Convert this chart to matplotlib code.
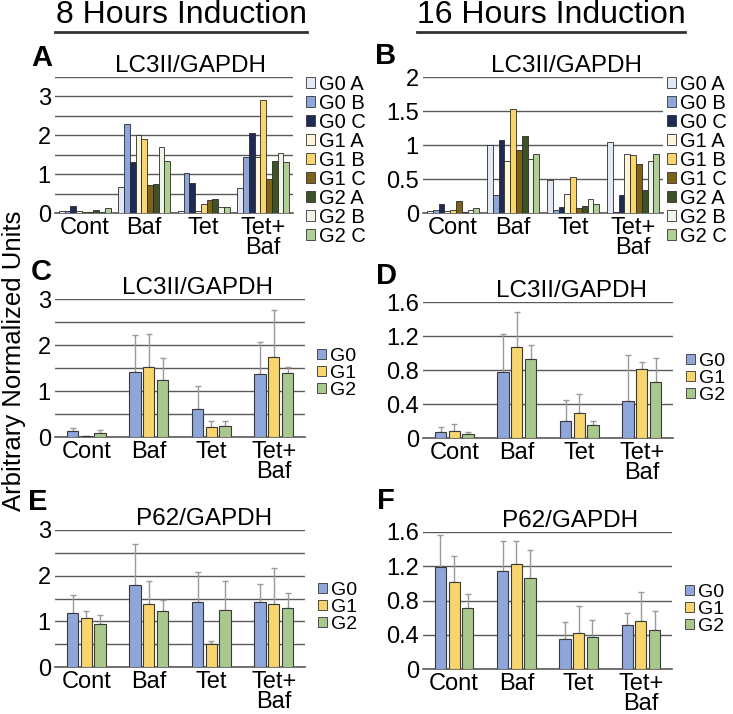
import matplotlib
matplotlib.use('Agg')
import matplotlib.pyplot as plt
from matplotlib.lines import Line2D
from matplotlib.patches import Patch

plt.rcParams['font.family'] = ['Liberation Sans', 'DejaVu Sans']

categories = ['Cont', 'Baf', 'Tet', 'Tet+\nBaf']

# Panel A / B: individual replicates
rep_labels = ['G0 A', 'G0 B', 'G0 C', 'G1 A', 'G1 B', 'G1 C', 'G2 A', 'G2 B', 'G2 C']
rep_colors = ['#E3E8F5', '#8EA6DA', '#1F2B55', '#FDF5D8', '#F8D66D', '#7D6218',
              '#3D5226', '#EEF4E6', '#B0CF94']

# rows = categories, columns = replicates
a_values = [
    [0.06, 0.06, 0.19, 0.05, 0.03, 0.03, 0.08, 0.03, 0.12],
    [0.67, 2.28, 1.30, 2.00, 1.90, 0.73, 0.75, 1.70, 1.34],
    [0.06, 1.04, 0.76, 0.05, 0.24, 0.33, 0.36, 0.16, 0.16],
    [0.64, 1.44, 2.07, 1.44, 2.90, 0.88, 1.35, 1.54, 1.32],
]
b_values = [
    [0.03, 0.04, 0.13, 0.03, 0.05, 0.18, 0.02, 0.05, 0.07],
    [1.00, 0.27, 1.08, 0.76, 1.53, 0.93, 1.13, 0.80, 0.87],
    [0.49, 0.04, 0.09, 0.28, 0.53, 0.08, 0.11, 0.21, 0.13],
    [1.04, 0.02, 0.26, 0.87, 0.86, 0.72, 0.34, 0.76, 0.87],
]

# Panels C-F: group means and upper error bar tops
group_labels = ['G0', 'G1', 'G2']
group_colors = ['#8EA6DA', '#F8D66D', '#A8C98B']

c_mean = [[0.12, 0.03, 0.08], [1.41, 1.52, 1.24], [0.61, 0.21, 0.24], [1.37, 1.73, 1.39]]
c_top = [[0.19, 0.03, 0.15], [2.21, 2.24, 1.71], [1.10, 0.35, 0.35], [2.06, 2.76, 1.52]]
d_mean = [[0.07, 0.08, 0.047], [0.78, 1.07, 0.93], [0.20, 0.29, 0.15], [0.44, 0.81, 0.66]]
d_top = [[0.125, 0.17, 0.07], [1.22, 1.48, 1.10], [0.45, 0.52, 0.20], [0.98, 0.90, 0.94]]
e_mean = [[1.19, 1.08, 0.95], [1.80, 1.38, 1.23], [1.43, 0.50, 1.25], [1.43, 1.38, 1.30]]
e_top = [[1.57, 1.22, 1.13], [2.69, 1.89, 1.47], [2.09, 0.57, 1.88], [1.82, 2.17, 1.62]]
f_mean = [[1.19, 1.02, 0.71], [1.14, 1.23, 1.06], [0.35, 0.42, 0.37], [0.51, 0.56, 0.45]]
f_top = [[1.57, 1.32, 0.88], [1.49, 1.49, 1.39], [0.55, 0.73, 0.57], [0.65, 0.90, 0.68]]

W, H = 733, 714
fig = plt.figure(figsize=(W / 100, H / 100), dpi=100)


def px_axes(x0, y0, x1, y1):
    return fig.add_axes([x0 / W, 1 - y1 / H, (x1 - x0) / W, (y1 - y0) / H])


def style_axes(ax, ymax, step, labels):
    ticks = []
    v = 0.0
    while v <= ymax + 1e-9:
        ticks.append(round(v, 2))
        v += step
    ax.set_ylim(0, ymax)
    ax.set_xlim(-0.5, 3.5)
    ax.set_yticks(ticks)
    ax.set_yticklabels([labels.get(t, '') for t in ticks], fontsize=17)
    ax.set_xticks(range(4))
    ax.set_xticklabels(categories, fontsize=17, linespacing=0.85)
    ax.tick_params(length=0, pad=3)
    ax.grid(axis='y', color='#5a5a5a', lw=1)
    ax.set_axisbelow(True)
    for s in ['top', 'right', 'left']:
        ax.spines[s].set_visible(False)
    ax.spines['bottom'].set_color('#5a5a5a')
    ax.spines['bottom'].set_linewidth(1.2)
    ax.set_facecolor('none')


def add_legend(ax, handles, labels, leg_xy, size):
    ax.legend(handles, labels, loc='upper left',
              bbox_to_anchor=(leg_xy[0] / W, 1 - leg_xy[1] / H),
              bbox_transform=fig.transFigure, frameon=False, fontsize=size,
              handlelength=0.45, handleheight=0.45, handletextpad=0.2,
              labelspacing=0.0, borderaxespad=0, borderpad=0)


def rep_panel(ax, values, title, tx, leg_xy):
    w = 0.87 / 9
    for i in range(9):
        xs = [c + (i - 4) * w for c in range(4)]
        ax.bar(xs, [row[i] for row in values], width=w, color=rep_colors[i],
               edgecolor='#2a2a2a', linewidth=0.6, zorder=3)
    ax.set_title(title, fontsize=17.5, pad=3, x=tx)
    handles = [Patch(facecolor=rep_colors[i], edgecolor='#333333', lw=0.6)
               for i in range(9)]
    add_legend(ax, handles, rep_labels, leg_xy, 14.5)


def group_panel(ax, means, tops, title, tx, leg_xy):
    step = 0.22
    for g in range(3):
        xs = [c + (g - 1) * step for c in range(4)]
        m = [row[g] for row in means]
        err = [row[g] - row_m for row, row_m in zip(tops, m)]
        ax.bar(xs, m, width=0.18, color=group_colors[g], edgecolor='#3a3a3a',
               linewidth=0.8, zorder=3)
        ax.errorbar(xs, m, yerr=[[0] * 4, err], fmt='none', ecolor='#9a9a9a',
                    elinewidth=1, capsize=2.5, capthick=1, zorder=2)
    ax.set_title(title, fontsize=17.5, pad=3, x=tx)
    handles = [Patch(facecolor=group_colors[g], edgecolor='#333333', lw=0.6)
               for g in range(3)]
    add_legend(ax, handles, group_labels, leg_xy, 14)


int_labels = {0.0: '0', 1.0: '1', 2.0: '2', 3.0: '3'}
dec_labels = {0.0: '0', 0.4: '0.4', 0.8: '0.8', 1.2: '1.2', 1.6: '1.6'}
half_labels = {0.0: '0', 0.5: '0.5', 1.0: '1', 1.5: '1.5', 2.0: '2'}

ax_a = px_axes(55, 77, 293, 213)
style_axes(ax_a, 3.5, 0.5, int_labels)
rep_panel(ax_a, a_values, 'LC3II/GAPDH', 0.571, (306, 75))

ax_b = px_axes(423, 77, 663, 213)
style_axes(ax_b, 2.0, 0.5, half_labels)
rep_panel(ax_b, b_values, 'LC3II/GAPDH', 0.596, (667, 75))

ax_c = px_axes(55, 299, 305, 437)
style_axes(ax_c, 3.0, 0.5, int_labels)
group_panel(ax_c, c_mean, c_top, 'LC3II/GAPDH', 0.572, (317, 348))

ax_d = px_axes(423, 302, 673, 438)
style_axes(ax_d, 1.6, 0.4, dec_labels)
group_panel(ax_d, d_mean, d_top, 'LC3II/GAPDH', 0.596, (686, 353))

ax_e = px_axes(55, 530, 305, 667)
style_axes(ax_e, 3.0, 0.5, int_labels)
group_panel(ax_e, e_mean, e_top, 'P62/GAPDH', 0.596, (318, 582))

ax_f = px_axes(423, 532, 672, 669)
style_axes(ax_f, 1.6, 0.4, dec_labels)
group_panel(ax_f, f_mean, f_top, 'P62/GAPDH', 0.59, (685, 584))

# panel letters
for letter, x, y in [('A', 42, 58), ('B', 386, 56), ('C', 41, 272),
                     ('D', 387, 276), ('E', 38, 502), ('F', 386, 501)]:
    fig.text(x / W, 1 - y / H, letter, fontsize=21, fontweight='bold',
             ha='center', va='center')

# column headers with underline
head_font = ['Liberation Sans Narrow', 'Liberation Sans', 'DejaVu Sans']
for txt, cx, x0, x1 in [('8 Hours Induction', 181, 55, 307),
                        ('16 Hours Induction', 551, 417, 685)]:
    fig.text(cx / W, 1 - 15 / H, txt, fontsize=23, family=head_font,
             ha='center', va='center')
    fig.add_artist(Line2D([x0 / W, x1 / W], [1 - 32 / H, 1 - 32 / H],
                          color='#333333', lw=2))

fig.text(14 / W, 1 - 361 / H, 'Arbitrary Normalized Units', fontsize=18.5,
         rotation=90, ha='center', va='center')

fig.savefig('out.png', dpi=100)
